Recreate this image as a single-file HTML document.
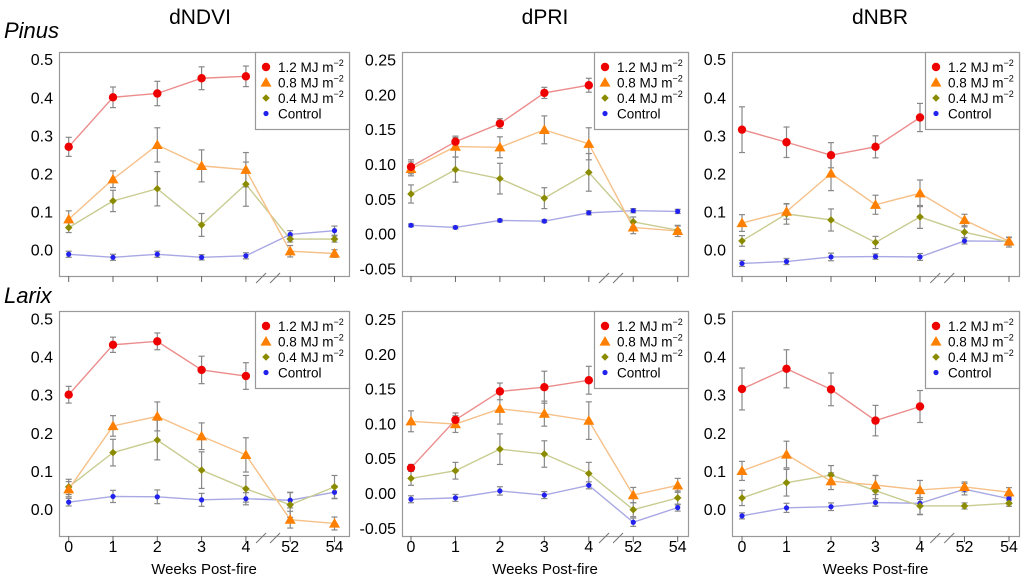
<!DOCTYPE html>
<html><head><meta charset="utf-8"><style>
html,body{margin:0;padding:0;background:#fff}
svg{display:block;font-family:"Liberation Sans",Arial,sans-serif}
</style></head><body>
<svg id="chart" width="1024" height="579" viewBox="0 0 1024 579" xmlns="http://www.w3.org/2000/svg">
<text x="200" y="24" font-size="21" text-anchor="middle">dNDVI</text>
<text x="545" y="24" font-size="21" text-anchor="middle">dPRI</text>
<text x="880" y="24" font-size="21" text-anchor="middle">dNBR</text>
<text x="4" y="38" font-size="22" font-style="italic">Pinus</text>
<text x="4" y="303" font-size="22" font-style="italic">Larix</text>
</svg>
<script>
const weeks = ['0','1','2','3','4','52','54'];
const seriesNames = ['1.2 MJ m','0.8 MJ m','0.4 MJ m','Control'];
const ticksA = [0,0.1,0.2,0.3,0.4,0.5];
const tickLabelsA = ['0.0','0.1','0.2','0.3','0.4','0.5'];
const ticksB = [-0.05,0,0.05,0.10,0.15,0.20,0.25];
const tickLabelsB = ['-0.05','0.00','0.05','0.10','0.15','0.20','0.25'];

// Pinus dNDVI
const pNdviRed = [0.27,0.40,0.41,0.45,0.455,null,null];
const pNdviRedErr = [0.025,0.027,0.032,0.03,0.027,0,0];
const pNdviOrange = [0.08,0.185,0.275,0.22,0.21,-0.004,-0.01];
const pNdviOrangeErr = [0.022,0.022,0.045,0.042,0.045,0.015,0.01];
const pNdviOlive = [0.058,0.128,0.16,0.065,0.172,0.028,0.028];
const pNdviOliveErr = [0.013,0.028,0.045,0.03,0.058,0.008,0.008];
const pNdviBlue = [-0.012,-0.02,-0.012,-0.02,-0.016,0.04,0.05];
const pNdviBlueErr = [0.008,0.008,0.008,0.007,0.008,0.01,0.012];
// Pinus dPRI
const pPriRed = [0.096,0.132,0.158,0.202,0.213,null,null];
const pPriRedErr = [0.01,0.006,0.007,0.008,0.01,0,0];
const pPriOrange = [0.093,0.125,0.124,0.149,0.129,0.009,0.004];
const pPriOrangeErr = [0.01,0.015,0.015,0.02,0.023,0.009,0.008];
const pPriOlive = [0.057,0.092,0.079,0.051,0.088,0.017,0.005];
const pPriOliveErr = [0.013,0.018,0.022,0.015,0.027,0.007,0.006];
const pPriBlue = [0.012,0.009,0.019,0.018,0.03,0.033,0.032];
const pPriBlueErr = [0.002,0.002,0.002,0.002,0.003,0.003,0.003];
// Pinus dNBR
const pNbrRed = [0.315,0.282,0.248,0.27,0.347,null,null];
const pNbrRedErr = [0.06,0.04,0.033,0.029,0.037,0,0];
const pNbrOrange = [0.07,0.10,0.20,0.118,0.148,0.078,0.022];
const pNbrOrangeErr = [0.022,0.02,0.045,0.025,0.035,0.015,0.01];
const pNbrOlive = [0.023,0.094,0.078,0.019,0.086,0.046,0.02];
const pNbrOliveErr = [0.014,0.027,0.029,0.016,0.03,0.014,0.013];
const pNbrBlue = [-0.036,-0.031,-0.019,-0.018,-0.019,0.023,0.022];
const pNbrBlueErr = [0.008,0.008,0.01,0.007,0.009,0.008,0.01];
// Larix dNDVI
const lNdviRed = [0.30,0.431,0.44,0.365,0.349,null,null];
const lNdviRedErr = [0.022,0.02,0.022,0.036,0.035,0,0];
const lNdviOrange = [0.052,0.218,0.243,0.191,0.142,-0.028,-0.038];
const lNdviOrangeErr = [0.02,0.027,0.038,0.035,0.045,0.022,0.017];
const lNdviOlive = [0.058,0.148,0.181,0.102,0.053,0.011,0.058];
const lNdviOliveErr = [0.02,0.035,0.052,0.048,0.035,0.033,0.03];
const lNdviBlue = [0.018,0.033,0.032,0.024,0.027,0.023,0.044];
const lNdviBlueErr = [0.01,0.016,0.018,0.017,0.016,0.02,0.017];
// Larix dPRI
const lPriRed = [0.036,0.105,0.146,0.152,0.162,null,null];
const lPriRedErr = [0.005,0.01,0.012,0.023,0.02,0,0];
const lPriOrange = [0.103,0.099,0.121,0.114,0.104,-0.003,0.011];
const lPriOrangeErr = [0.015,0.012,0.022,0.018,0.027,0.011,0.01];
const lPriOlive = [0.021,0.032,0.063,0.056,0.028,-0.024,-0.007];
const lPriOliveErr = [0.01,0.012,0.022,0.019,0.016,0.01,0.01];
const lPriBlue = [-0.009,-0.007,0.003,-0.003,0.011,-0.042,-0.021];
const lPriBlueErr = [0.005,0.005,0.006,0.005,0.005,0.006,0.005];
// Larix dNBR
const lNbrRed = [0.315,0.368,0.314,0.232,0.269,null,null];
const lNbrRedErr = [0.055,0.05,0.043,0.04,0.042,0,0];
const lNbrOrange = [0.10,0.143,0.073,0.063,0.05,0.058,0.044];
const lNbrOrangeErr = [0.025,0.035,0.022,0.025,0.025,0.013,0.012];
const lNbrOlive = [0.029,0.069,0.089,0.048,0.008,0.008,0.015];
const lNbrOliveErr = [0.02,0.035,0.025,0.04,0.022,0.008,0.008];
const lNbrBlue = [-0.018,0.003,0.006,0.017,0.015,0.052,0.027];
const lNbrBlueErr = [0.008,0.012,0.01,0.01,0.03,0.015,0.01];

const svg = document.getElementById('chart');
const NS = 'http://www.w3.org/2000/svg';
function mk(tag, attrs, parent) {
  const e = document.createElementNS(NS, tag);
  for (const k in attrs) e.setAttribute(k, attrs[k]);
  (parent || svg).appendChild(e);
  return e;
}
const styles = [
  {line:'#ec8c8c', fill:'#ee0000', shape:'circle', r:4.2},
  {line:'#f6c088', fill:'#ff8000', shape:'tri', r:5.5},
  {line:'#c8cc90', fill:'#8b8b00', shape:'diamond', r:3.8},
  {line:'#a8a8e4', fill:'#2222ee', shape:'dot', r:2.6}
];
function marker(g, x, y, s) {
  if (s.shape === 'circle' || s.shape === 'dot') return mk('circle', {cx:x, cy:y, r:s.r, fill:s.fill}, g);
  if (s.shape === 'tri') { const r = s.r; return mk('polygon', {points:`${x},${y-r} ${x+r},${y+r*0.75} ${x-r},${y+r*0.75}`, fill:s.fill}, g); }
  const r = s.r; return mk('polygon', {points:`${x},${y-r} ${x+r},${y} ${x},${y+r} ${x-r},${y}`, fill:s.fill}, g);
}
const panels = [
  {name:'pinus-dndvi', L:59, R:349, T:52, B:276, x0:68.7, dx:44.3, y0:249.7, k:381, ticks:ticksA, labels:tickLabelsA, xl:false, s:[pNdviRed,pNdviOrange,pNdviOlive,pNdviBlue], e:[pNdviRedErr,pNdviOrangeErr,pNdviOliveErr,pNdviBlueErr]},
  {name:'pinus-dpri', L:402, R:688, T:52, B:276, x0:411, dx:44.45, y0:233.7, k:697, ticks:ticksB, labels:tickLabelsB, xl:false, s:[pPriRed,pPriOrange,pPriOlive,pPriBlue], e:[pPriRedErr,pPriOrangeErr,pPriOliveErr,pPriBlueErr]},
  {name:'pinus-dnbr', L:732, R:1019, T:52, B:276, x0:742, dx:44.5, y0:249.7, k:381, ticks:ticksA, labels:tickLabelsA, xl:false, s:[pNbrRed,pNbrOrange,pNbrOlive,pNbrBlue], e:[pNbrRedErr,pNbrOrangeErr,pNbrOliveErr,pNbrBlueErr]},
  {name:'larix-dndvi', L:59, R:349, T:311, B:536, x0:68.7, dx:44.3, y0:509, k:381, ticks:ticksA, labels:tickLabelsA, xl:true, s:[lNdviRed,lNdviOrange,lNdviOlive,lNdviBlue], e:[lNdviRedErr,lNdviOrangeErr,lNdviOliveErr,lNdviBlueErr]},
  {name:'larix-dpri', L:402, R:688, T:311, B:536, x0:411, dx:44.45, y0:493, k:696, ticks:ticksB, labels:tickLabelsB, xl:true, s:[lPriRed,lPriOrange,lPriOlive,lPriBlue], e:[lPriRedErr,lPriOrangeErr,lPriOliveErr,lPriBlueErr]},
  {name:'larix-dnbr', L:732, R:1019, T:311, B:536, x0:742, dx:44.5, y0:509, k:381, ticks:ticksA, labels:tickLabelsA, xl:true, s:[lNbrRed,lNbrOrange,lNbrOlive,lNbrBlue], e:[lNbrRedErr,lNbrOrangeErr,lNbrOliveErr,lNbrBlueErr]}
];
panels.forEach(p => {
  const g = mk('g', {});
  
  
  const X = i => p.x0 + i * p.dx;
  const Y = v => p.y0 - v * p.k;
  const box = mk('rect', {x:p.L+0.5, y:p.T+0.5, width:p.R-p.L, height:p.B-p.T, fill:'none', stroke:'#999', 'stroke-width':1.2}, g);
  
  
  p.ticks.forEach((t, i) => {
    const tx = mk('text', {x:p.L-6, y:Y(t)+6, 'font-size':16, 'text-anchor':'end', fill:'#000'}, g);
    tx.textContent = p.labels[i];
    
    
  });
  weeks.forEach((w, i) => {
    mk('line', {x1:X(i), x2:X(i), y1:p.B, y2:p.B+6, stroke:'#666', 'stroke-width':1}, g);
    if (p.xl) {
      const tx = mk('text', {x:X(i), y:p.B+16, 'font-size':16, 'text-anchor':'middle'}, g);
      tx.textContent = w;
      
      
    }
  });
  const bx = (X(4) + X(5)) / 2;
  mk('line', {x1:bx-12, y1:p.B+7, x2:bx-2, y2:p.B-3, stroke:'#777', 'stroke-width':1}, g);
  mk('line', {x1:bx+2, y1:p.B+7, x2:bx+12, y2:p.B-3, stroke:'#777', 'stroke-width':1}, g);
  if (p.xl) {
    const t = mk('text', {x:(p.L+p.R)/2, y:p.B+38, 'font-size':15, 'text-anchor':'middle'}, g);
    t.textContent = 'Weeks Post-fire';
    
    
  }
  // series lines (draw back to front: blue first)
  for (let si = 3; si >= 0; si--) {
    const vals = p.s[si], st = styles[si];
    let pts = [];
    vals.forEach((v, i) => { if (v !== null) pts.push(X(i) + ',' + Y(v)); });
    const ln = mk('polyline', {points:pts.join(' '), fill:'none', stroke:st.line, 'stroke-width':1.4}, g);
    
    
  }
  for (let si = 3; si >= 0; si--) {
    const vals = p.s[si], errs = p.e[si];
    vals.forEach((v, i) => {
      if (v === null || !errs[i]) return;
      const x = X(i), y1 = Y(v + errs[i]), y2 = Y(v - errs[i]);
      mk('line', {x1:x, x2:x, y1:y1, y2:y2, stroke:'#888', 'stroke-width':1.2}, g);
      mk('line', {x1:x-3, x2:x+3, y1:y1, y2:y1, stroke:'#888', 'stroke-width':1.2}, g);
      mk('line', {x1:x-3, x2:x+3, y1:y2, y2:y2, stroke:'#888', 'stroke-width':1.2}, g);
    });
  }
  for (let si = 3; si >= 0; si--) {
    const vals = p.s[si];
    vals.forEach((v, i) => {
      if (v === null) return;
      const m = marker(g, X(i), Y(v), styles[si]);
      
      
    });
  }
  // legend
  const lg = mk('g', {}, g);
  
  
  const lw = 94, lx = p.R - lw;
  mk('rect', {x:lx+0.5, y:p.T+0.5, width:lw, height:77, fill:'#fff', stroke:'#999', 'stroke-width':1.2}, lg);
  seriesNames.forEach((n, i) => {
    const yy = p.T + 15 + i * 15.5;
    marker(lg, lx + 11, yy, styles[i]);
    const t = mk('text', {x:lx + 23, y:yy + 5, 'font-size':13.5}, lg);
    
    
    t.textContent = n;
    if (i < 3) {
      const sp = mk('tspan', {'font-size':9, dy:-6}, t);
      sp.textContent = '\u22122';
    }
  });
});
</script>
</body></html>
